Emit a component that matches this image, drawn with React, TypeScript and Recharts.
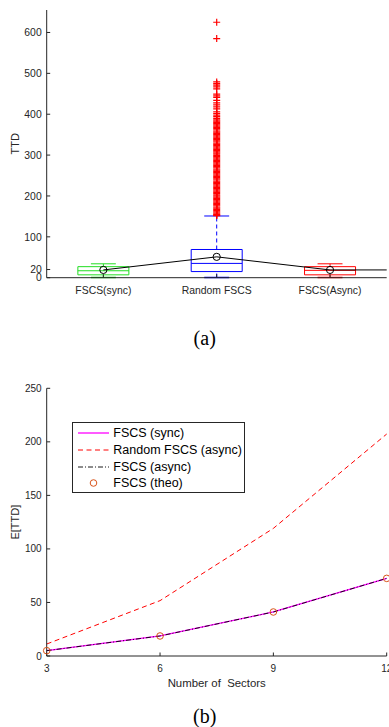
import { ComposedChart, Line, Scatter, XAxis, YAxis, ReferenceArea, ReferenceLine, Legend, Label } from "recharts";

// (a) box plot of TTD
const categories = ["FSCS(sync)", "Random FSCS", "FSCS(Async)"];
const boxPositions = [1, 2, 3];
const boxColors = ["#22dd22", "#0000ff", "#ff0000"];
const lowerWhisker = [0.5, 0.5, 0.5];
const q1 = [7, 15, 7];
const medians = [17, 35, 18];
const q3 = [27, 69, 27];
const upperWhisker = [34, 151, 34];
const means = [19, 51, 19];
const meanLineX = [1, 2, 3, 4];
const meanLineY = [19, 51, 19, 19];
const randomOutliers = [
  625, 585, 479, 475, 471, 467, 462, 449, 445, 441, 434, 428, 423, 418, 413, 406, 402, 398, 394, 390,
  386, 383, 380, 377, 374, 371, 368, 365, 362, 359, 356, 353, 350, 347, 344, 341, 338, 335, 332, 329,
  326, 323, 320, 317, 314, 311, 308, 305, 302, 299, 296, 293, 290, 287, 284, 281, 278, 275, 272, 269,
  266, 263, 260, 257, 254, 251, 248, 245, 242, 239, 236, 233, 230, 227, 224, 221, 218, 215, 212, 209,
  206, 203, 200, 197, 194, 191, 188, 185, 182, 179, 176, 173, 170, 167, 164, 161, 158, 155, 153, 152,
];
const ttdTicks = [0, 20, 100, 200, 300, 400, 500, 600];
const ttdMax = 655;

// (b) expected TTD vs number of sectors
const sectors = [3, 6, 9, 12];
const fscsSync = [5, 18.7, 41.1, 72.5];
const randomAsync = [11.2, 51.7, 119.2, 207.3];
const fscsAsync = [5, 18.7, 41.1, 72.5];
const fscsTheo = [5, 18.7, 41.1, 72.5];
const ettdTicks = [0, 50, 100, 150, 200, 250];

const FONT = "'Liberation Sans', Arial, sans-serif";
const AXIS = "#262626";
const BOX_HALF = 0.225;
const CAP_HALF = 0.11;

const outlierData = randomOutliers.map(v => ({ x: 2, y: v }));
const meanDots = boxPositions.map((x, i) => ({ x, y: means[i] }));
const meanLine = meanLineX.map((x, i) => ({ x, y: meanLineY[i] }));

const sectorData = sectors.map((s, i) => ({
  s,
  sync: fscsSync[i],
  random: randomAsync[i],
  async: fscsAsync[i],
  theo: fscsTheo[i],
}));

const legendOrder = ["FSCS (sync)", "Random FSCS (async)", "FSCS (async)", "FSCS (theo)"];
const styles: Record<string, { color: string; dash?: string; width: number; marker?: boolean }> = {
  "FSCS (sync)": { color: "#ff00ff", width: 1.3 },
  "Random FSCS (async)": { color: "#ff0000", dash: "5 3.5", width: 1 },
  "FSCS (async)": { color: "#000000", dash: "5 2 1 2", width: 0.9 },
  "FSCS (theo)": { color: "#d95319", width: 1, marker: true },
};

const tickStyle = { fontSize: 10.4, fill: AXIS, fontFamily: FONT };

const yTitle = (text: string) => (props: any) => {
  const vb = props.viewBox;
  const x = 19.5;
  const y = vb.y + vb.height / 2;
  return (
    <text x={x} y={y} transform={`rotate(-90, ${x}, ${y})`} textAnchor="middle" fontSize={11} fill={AXIS} fontFamily={FONT}>
      {text}
    </text>
  );
};

const Plus = (props: any) => {
  const { cx, cy } = props;
  return <path d={`M${cx - 3.5},${cy}h7M${cx},${cy - 3.5}v7`} stroke="#ff0000" strokeWidth={1.2} fill="none" />;
};

const Ring = (props: any) => {
  const { cx, cy } = props;
  return <circle cx={cx} cy={cy} r={3.6} stroke="#000" strokeWidth={1} fill="none" />;
};

function LegendBox(props: any) {
  const items = legendOrder.filter(name => (props.payload || []).some((p: any) => p.value === name));
  return (
    <div style={{ border: `1px solid ${AXIS}`, background: "#fff", paddingTop: 2, boxSizing: "border-box", width: 173, height: 71, fontFamily: FONT }}>
      {items.map(name => {
        const st = styles[name];
        return (
          <div key={name} style={{ display: "flex", alignItems: "center", height: 16.8 }}>
            <svg width={31} height={10} style={{ marginLeft: 5, marginRight: 4, flexShrink: 0 }}>
              {st.marker ? (
                <circle cx={15.5} cy={5} r={3.3} stroke={st.color} fill="none" strokeWidth={1} />
              ) : (
                <line x1={0} y1={5} x2={31} y2={5} stroke={st.color} strokeWidth={st.width} strokeDasharray={st.dash} />
              )}
            </svg>
            <span style={{ fontSize: 12.5, color: "#000", whiteSpace: "nowrap" }}>{name}</span>
          </div>
        );
      })}
    </div>
  );
}

function BoxPlot() {
  return (
    <ComposedChart width={389} height={300} margin={{ top: 10, right: 2.3, bottom: 0, left: 0 }} style={{ fontFamily: FONT }}>
      <XAxis
        dataKey="x"
        type="number"
        domain={[0.5, 3.5]}
        ticks={boxPositions}
        interval={0}
        allowDataOverflow
        tickFormatter={(v: number) => categories[v - 1] ?? ""}
        height={22.3}
        tickSize={-3.5}
        tickMargin={12.1}
        stroke={AXIS}
        tick={tickStyle}
      />
      <XAxis xAxisId="top" orientation="top" type="number" domain={[0.5, 3.5]} ticks={boxPositions} interval={0} allowDataOverflow tickFormatter={() => ""} height={0} tickSize={-3.5} stroke={AXIS} />
      <YAxis
        type="number"
        domain={[0, ttdMax]}
        ticks={ttdTicks}
        interval={0}
        allowDataOverflow
        width={46.7}
        tickSize={-3.5}
        tickMargin={8.5}
        stroke={AXIS}
        tick={tickStyle}
      >
        <Label content={yTitle("TTD")} />
      </YAxis>
      <YAxis yAxisId="right" orientation="right" type="number" domain={[0, ttdMax]} ticks={ttdTicks} interval={0} allowDataOverflow tickFormatter={() => ""} width={0} tickSize={-3.5} stroke={AXIS} />

      {boxPositions.map((x, i) => (
        <ReferenceArea key={`box${i}`} x1={x - BOX_HALF} x2={x + BOX_HALF} y1={q1[i]} y2={q3[i]} fill="none" fillOpacity={0} stroke={boxColors[i]} strokeWidth={1} />
      ))}
      {boxPositions.map((x, i) => (
        <ReferenceLine key={`med${i}`} segment={[{ x: x - BOX_HALF, y: medians[i] }, { x: x + BOX_HALF, y: medians[i] }]} stroke={boxColors[i]} strokeWidth={1} />
      ))}
      {boxPositions.map((x, i) => (
        <ReferenceLine key={`uw${i}`} segment={[{ x, y: q3[i] }, { x, y: upperWhisker[i] }]} stroke={boxColors[i]} strokeDasharray="4 3" strokeWidth={1} />
      ))}
      {boxPositions.map((x, i) => (
        <ReferenceLine key={`lw${i}`} segment={[{ x, y: lowerWhisker[i] }, { x, y: q1[i] }]} stroke={boxColors[i]} strokeDasharray="4 3" strokeWidth={1} />
      ))}
      {boxPositions.map((x, i) => (
        <ReferenceLine key={`uc${i}`} segment={[{ x: x - CAP_HALF, y: upperWhisker[i] }, { x: x + CAP_HALF, y: upperWhisker[i] }]} stroke={boxColors[i]} strokeWidth={1} />
      ))}
      {boxPositions.map((x, i) => (
        <ReferenceLine key={`lc${i}`} segment={[{ x: x - CAP_HALF, y: lowerWhisker[i] }, { x: x + CAP_HALF, y: lowerWhisker[i] }]} stroke={boxColors[i]} strokeWidth={1.5} />
      ))}

      <Scatter data={outlierData} dataKey="y" shape={Plus} isAnimationActive={false} />
      <Line data={meanLine} dataKey="y" stroke="#000" strokeWidth={1} dot={false} isAnimationActive={false} />
      <Scatter data={meanDots} dataKey="y" shape={Ring} isAnimationActive={false} />
    </ComposedChart>
  );
}

function SectorChart() {
  return (
    <ComposedChart width={389} height={325} data={sectorData} margin={{ top: 18.3, right: 2.3, bottom: 0, left: 0 }} style={{ fontFamily: FONT }}>
      <XAxis
        dataKey="s"
        type="number"
        domain={[3, 12]}
        ticks={sectors}
        interval={0}
        height={39}
        tickSize={-3.5}
        tickMargin={12.3}
        stroke={AXIS}
        tick={{ ...tickStyle, fontSize: 10 }}
      >
        <Label value={"Number of \u00a0Sectors"} position="insideBottom" offset={8.2} fontSize={11.4} fill={AXIS} fontFamily={FONT} />
      </XAxis>
      <XAxis xAxisId="top" orientation="top" type="number" domain={[3, 12]} ticks={sectors} interval={0} tickFormatter={() => ""} height={0} tickSize={-3.5} stroke={AXIS} />
      <YAxis type="number" domain={[0, 250]} ticks={ettdTicks} interval={0} width={46.7} tickSize={-3.5} tickMargin={8.5} stroke={AXIS} tick={{ ...tickStyle, fontSize: 10 }}>
        <Label content={yTitle("E[TTD]")} />
      </YAxis>
      <YAxis yAxisId="right" orientation="right" type="number" domain={[0, 250]} ticks={ettdTicks} interval={0} tickFormatter={() => ""} width={0} tickSize={-3.5} stroke={AXIS} />

      <Legend
        verticalAlign="middle"
        align="center"
        layout="vertical"
        content={<LegendBox />}
        wrapperStyle={{ left: 72.3, top: 51.7, width: 173, height: 71 }}
      />

      <Line name="Random FSCS (async)" dataKey="random" stroke="#ff0000" strokeDasharray="5 3.5" strokeWidth={1} dot={false} isAnimationActive={false} />
      <Line name="FSCS (sync)" dataKey="sync" stroke="#ff00ff" strokeWidth={1.3} dot={false} isAnimationActive={false} />
      <Line name="FSCS (async)" dataKey="async" stroke="#000" strokeDasharray="5 2 1 2" strokeWidth={0.9} dot={false} isAnimationActive={false} />
      <Line name="FSCS (theo)" dataKey="theo" stroke="none" dot={{ r: 3.3, stroke: "#d95319", fill: "none", strokeWidth: 1 }} isAnimationActive={false} />
    </ComposedChart>
  );
}

export default function App() {
  return (
    <div style={{ position: "absolute", left: 0, top: 0, width: 389, height: 727, background: "#fff", overflow: "hidden" }}>
      <div style={{ position: "absolute", left: 0, top: 0 }}>
        <BoxPlot />
      </div>
      <div style={{ position: "absolute", left: 0, top: 370 }}>
        <SectorChart />
      </div>
      <svg width={389} height={727} style={{ position: "absolute", left: 0, top: 0, pointerEvents: "none" }}>
        <text x={204.7} y={345.2} textAnchor="middle" fontSize={20} fontFamily="'Liberation Serif', 'Times New Roman', serif" fill="#000">(a)</text>
        <text x={204.7} y={723.2} textAnchor="middle" fontSize={20} fontFamily="'Liberation Serif', 'Times New Roman', serif" fill="#000">(b)</text>
      </svg>
    </div>
  );
}
